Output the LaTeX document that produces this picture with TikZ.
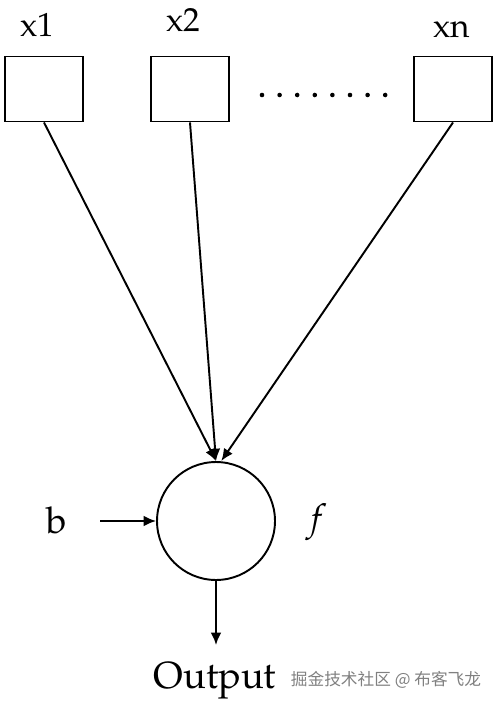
\documentclass[tikz,border=0pt]{standalone}
\usepackage{fontspec}
\setmainfont{TeX Gyre Pagella}
\newfontfamily\cjk{Noto Sans CJK SC}
\usetikzlibrary{positioning, arrows.meta}

\begin{document}
\begin{tikzpicture}[
    x=0.02cm, y=-0.02cm,
    line width=1.1pt,
    inputbox/.style={draw, rectangle, minimum width=1.56cm, minimum height=1.3cm, inner sep=0pt},
    neuron/.style={draw, circle, minimum size=2.36cm, inner sep=0pt},
    inlabel/.style={anchor=base, font=\fontsize{19}{22}\selectfont},
    biglabel/.style={anchor=base, font=\fontsize{21}{25}\selectfont},
    link/.style={-{Latex[length=7pt, width=6pt]}}
]
    \useasboundingbox (0,0) rectangle (500,706);

    % Input boxes and their labels
    \node[inputbox] (X1) at (44, 89) {};
    \node[inputbox] (X2) at (190, 89) {};
    \node[inputbox] (XN) at (453, 89) {};
    \node[inlabel] (L1) at (37, 37) {x1};
    \node[inlabel] (L2) at (183, 32) {x2};
    \node[inlabel] (LN) at (452, 38) {xn};

    % Dots between x2 and xn
    \foreach \i in {0,...,7}
        \fill (262+\i*17.6, 95) circle (1.3pt);

    % Neuron
    \node[neuron] (NEURON) at (216, 521) {};
    \node[biglabel] (F) at (317, 530) {\itshape f};

    % Weighted inputs
    \draw[link] (X1.south) -- (NEURON.north);
    \draw[link] (X2.south) -- (NEURON.north);
    \draw[link] (XN.south) -- ([xshift=3pt]NEURON.north);

    % Bias
    \node[biglabel] (B) at (57, 533) {b};
    \coordinate (BIAS) at (100, 521);
    \draw[link] (BIAS) -- (NEURON.west);

    % Output
    \coordinate (OUT) at (216, 645);
    \draw[link] (NEURON.south) -- (OUT);
    \node[anchor=base, font=\fontsize{21.5}{26}\selectfont] (OUTPUT) at (215, 688) {Output};
    \node[anchor=base, text=gray, font=\cjk\fontsize{9.5}{11}\selectfont] (MARK) at (386, 685) {掘金技术社区 @ 布客飞龙};

\end{tikzpicture}
\end{document}
